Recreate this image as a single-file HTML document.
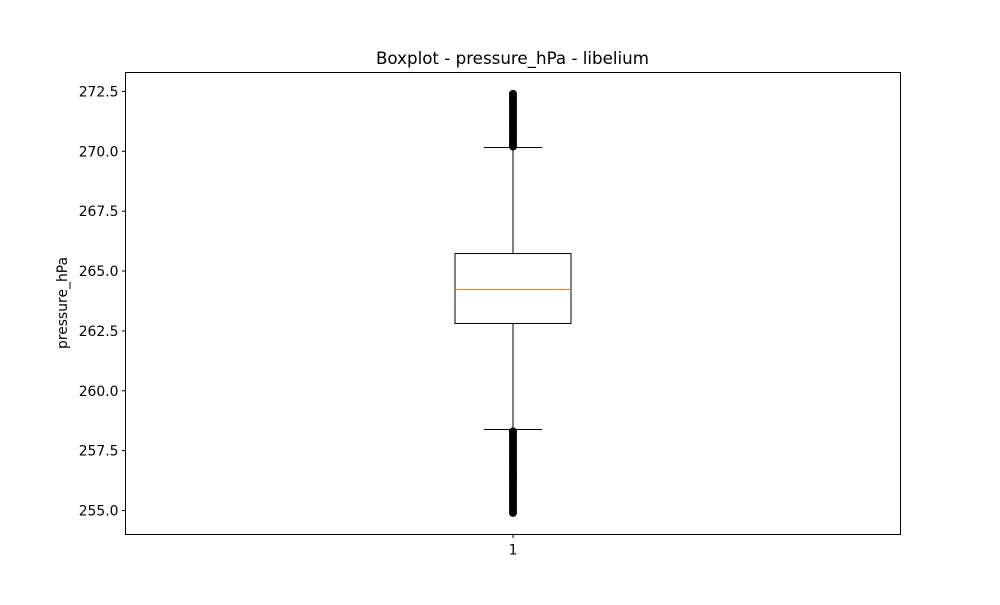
<!DOCTYPE html>
<html><head><meta charset="utf-8"><style>
body{margin:0;background:#fff}
svg text{font-family:"DejaVu Sans","Liberation Sans",sans-serif;fill:#000}
</style></head><body>
<svg id="chart" width="1000" height="600" xmlns="http://www.w3.org/2000/svg">
<rect width="1000" height="600" fill="#fff"/>
<text x="512.5" y="64" font-size="16.7" text-anchor="middle">Boxplot - pressure_hPa - libelium</text>
<text transform="translate(67,303) rotate(-90)" font-size="13.9" text-anchor="middle">pressure_hPa</text>
<g id="ticks"></g>
<g id="marks"></g>
<rect x="125.5" y="72.5" width="775" height="462" fill="none" stroke="#000" stroke-width="1"/>
</svg>
<script>
const categories = ["1"];
const yTicks = [255.0, 257.5, 260.0, 262.5, 265.0, 267.5, 270.0, 272.5];
const q1 = [262.81];
const median = [264.23];
const q3 = [265.73];
const whiskerLow = [258.38];
const whiskerHigh = [270.16];
const outliersHigh = [270.2,270.3,270.4,270.5,270.6,270.7,270.8,270.9,271.0,271.1,271.2,271.3,271.4,271.5,271.6,271.7,271.8,271.9,272.0,272.1,272.2,272.3,272.4];
const outliersLow = [254.9,255.0,255.1,255.2,255.3,255.4,255.5,255.6,255.7,255.8,255.9,256.0,256.1,256.2,256.3,256.4,256.5,256.6,256.7,256.8,256.9,257.0,257.1,257.2,257.3,257.4,257.5,257.6,257.7,257.8,257.9,258.0,258.1,258.2,258.3];

const NS="http://www.w3.org/2000/svg";
const yMin=253.998, yMax=273.29, plotTop=72.5, plotBottom=534.5, plotLeft=125.5, plotRight=900.5;
function yS(v){return plotBottom-(v-yMin)/(yMax-yMin)*(plotBottom-plotTop);}
function xS(i){return plotLeft+(i+0.5)*(plotRight-plotLeft)/categories.length;}
function mk(tag,attrs,parent){const e=document.createElementNS(NS,tag);for(const k in attrs)e.setAttribute(k,attrs[k]);parent.appendChild(e);return e;}
const tg=document.getElementById('ticks'), mg=document.getElementById('marks');
yTicks.forEach(t=>{
  const y=yS(t);
  const l=mk('line',{x1:plotLeft-3.5,x2:plotLeft,y1:y,y2:y,stroke:'#000'},tg);
  
  
  const tx=mk('text',{x:plotLeft-7,y:y+5,'font-size':13.9,'text-anchor':'end'},tg);
  tx.textContent=t.toFixed(1);
  
  
});
categories.forEach((c,i)=>{
  const cx=xS(i);
  const l=mk('line',{x1:cx,x2:cx,y1:plotBottom,y2:plotBottom+3.5,stroke:'#000'},tg);
  
  
  const tx=mk('text',{x:cx,y:plotBottom+20,'font-size':13.9,'text-anchor':'middle'},tg);
  tx.textContent=c;
  
  
  const bw=116, cw=58;
  const w1=mk('line',{x1:cx,x2:cx,y1:yS(q1[i]),y2:yS(whiskerLow[i]),stroke:'#000'},mg);
  
  
  const w2=mk('line',{x1:cx,x2:cx,y1:yS(q3[i]),y2:yS(whiskerHigh[i]),stroke:'#000'},mg);
  
  
  const c1=mk('line',{x1:cx-cw/2,x2:cx+cw/2,y1:yS(whiskerLow[i]),y2:yS(whiskerLow[i]),stroke:'#000'},mg);
  
  
  const c2=mk('line',{x1:cx-cw/2,x2:cx+cw/2,y1:yS(whiskerHigh[i]),y2:yS(whiskerHigh[i]),stroke:'#000'},mg);
  
  
  const b=mk('rect',{x:cx-bw/2,y:yS(q3[i]),width:bw,height:yS(q1[i])-yS(q3[i]),fill:'none',stroke:'#000'},mg);
  
  
  const m=mk('line',{x1:cx-bw/2,x2:cx+bw/2,y1:yS(median[i]),y2:yS(median[i]),stroke:'#ff7f0e'},mg);
  
  
  outliersHigh.concat(outliersLow).forEach(v=>{
    const o=mk('circle',{cx:cx,cy:yS(v),r:3.5,fill:'#000',stroke:'#000'},mg);
    
    
  });
});
</script>
</body></html>
